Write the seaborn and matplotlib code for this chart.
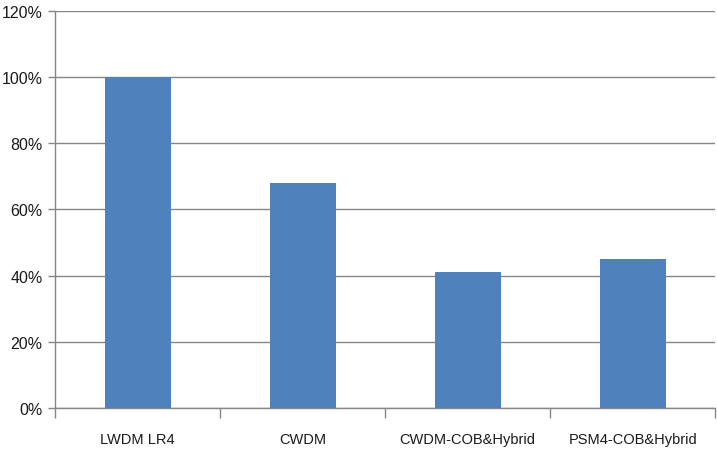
import matplotlib
matplotlib.use("Agg")
import matplotlib.pyplot as plt
from matplotlib.ticker import FuncFormatter, FixedLocator
import seaborn as sns
import pandas as pd

categories = ["LWDM LR4", "CWDM", "CWDM-COB&Hybrid", "PSM4-COB&Hybrid"]
values = [1.00, 0.68, 0.41, 0.45]
y_ticks = [0.0, 0.2, 0.4, 0.6, 0.8, 1.0, 1.2]

sns.set_theme(style="white")
plt.rcParams["font.family"] = ["Liberation Sans", "DejaVu Sans"]

df = pd.DataFrame({"technology": categories, "cost": values})

fig = plt.figure(figsize=(7.17, 4.56), dpi=100)
ax = fig.add_axes([0.0767, 0.103, 0.921, 0.871])

sns.barplot(data=df, x="technology", y="cost", color="#4F81BD",
            saturation=1, width=0.4, linewidth=0, ax=ax, zorder=3)

ax.set_ylim(0, 1.2)
ax.set_xlim(-0.5, len(categories) - 0.5)
ax.set_yticks(y_ticks)
ax.yaxis.set_major_formatter(FuncFormatter(lambda v, _: f"{v * 100:.0f}%"))
ax.yaxis.grid(True, color="#868686", linewidth=1.0, zorder=0)
ax.set_axisbelow(True)

# category labels centred on bars, ticks at category boundaries
ax.xaxis.set_major_locator(FixedLocator(range(len(categories))))
ax.set_xticklabels(categories)
ax.xaxis.set_minor_locator(FixedLocator([i - 0.5 for i in range(len(categories) + 1)]))
ax.tick_params(axis="x", which="major", length=0, pad=17, labelsize=10.5, colors="#1a1a1a")
ax.tick_params(axis="x", which="minor", bottom=True, length=7, width=1, color="#868686")
ax.tick_params(axis="y", left=True, length=5, width=1, color="#868686",
               labelsize=11.5, labelcolor="#1a1a1a", pad=4)

for side in ["top", "right"]:
    ax.spines[side].set_visible(False)
for side in ["left", "bottom"]:
    ax.spines[side].set_color("#868686")
    ax.spines[side].set_linewidth(1.0)

ax.set_xlabel("")
ax.set_ylabel("")

fig.savefig("out.png", dpi=100)
